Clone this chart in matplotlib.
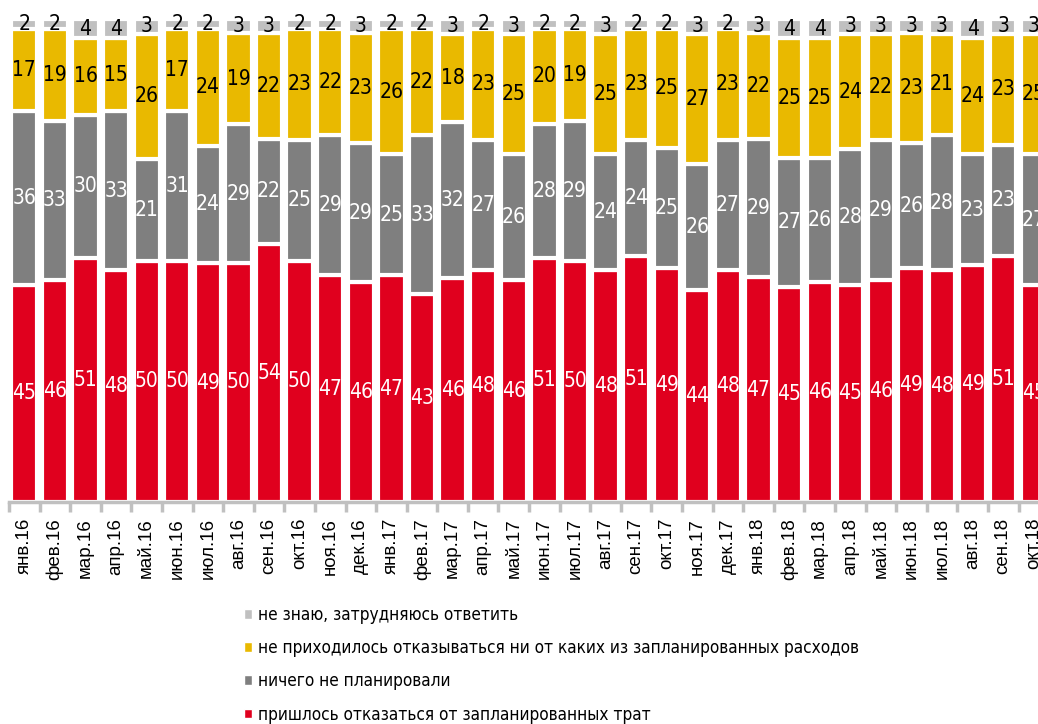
import numpy as np
import matplotlib
matplotlib.use("Agg")
import matplotlib.pyplot as plt
from matplotlib import font_manager
from matplotlib.patches import Patch
from matplotlib.ticker import FixedLocator

# --- Data ---
months = ["янв.16", "фев.16", "мар.16", "апр.16", "май.16", "июн.16", "июл.16",
          "авг.16", "сен.16", "окт.16", "ноя.16", "дек.16", "янв.17", "фев.17",
          "мар.17", "апр.17", "май.17", "июн.17", "июл.17", "авг.17", "сен.17",
          "окт.17", "ноя.17", "дек.17", "янв.18", "фев.18", "мар.18", "апр.18",
          "май.18", "июн.18", "июл.18", "авг.18", "сен.18", "окт.18"]

had_to_cancel = [45, 46, 51, 48, 50, 50, 49, 50, 54, 50, 47, 46, 47, 43, 46, 48, 46,
                 51, 50, 48, 51, 49, 44, 48, 47, 45, 46, 45, 46, 49, 48, 49, 51, 45]
planned_nothing = [36, 33, 30, 33, 21, 31, 24, 29, 22, 25, 29, 29, 25, 33, 32, 27, 26,
                   28, 29, 24, 24, 25, 26, 27, 29, 27, 26, 28, 29, 26, 28, 23, 23, 27]
no_cancel = [17, 19, 16, 15, 26, 17, 24, 19, 22, 23, 22, 23, 26, 22, 18, 23, 25,
             20, 19, 25, 23, 25, 27, 23, 22, 25, 25, 24, 22, 23, 21, 24, 23, 25]
dont_know = [2, 2, 4, 4, 3, 2, 2, 3, 3, 2, 2, 3, 2, 2, 3, 2, 3,
             2, 2, 3, 2, 2, 3, 2, 3, 4, 4, 3, 3, 3, 3, 4, 3, 3]

series = [
    ("пришлось отказаться от запланированных трат", had_to_cancel, "#E0001E", "white"),
    ("ничего не планировали", planned_nothing, "#7F7F7F", "white"),
    ("не приходилось отказываться ни от каких из запланированных расходов", no_cancel, "#E9B900", "black"),
    ("не знаю, затрудняюсь ответить", dont_know, "#C0C0C0", "black"),
]

# --- pick a narrow font for labels/legend (whatever is installed) ---
fonts = font_manager.fontManager.ttflist
names = {f.name for f in fonts}
if "Liberation Sans Narrow" in names:
    NARROW = dict(family="Liberation Sans Narrow")
elif any(f.name == "DejaVu Sans" and f.stretch == "condensed" for f in fonts):
    NARROW = dict(family="DejaVu Sans", stretch="condensed")
else:
    NARROW = dict(family="Roboto")
REGULAR = dict(family=["Liberation Sans", "DejaVu Sans"])

# 100% stacked chart
totals = np.sum([np.array(s[1]) for s in series], axis=0)
x = np.arange(len(months))

fig = plt.figure(figsize=(10.38, 7.24), dpi=100)
ax = fig.add_axes([0.0087, 0.3066, 1.002, 0.667])

bottom = np.zeros(len(months))
for name, vals, color, txt_color in series:
    share = np.array(vals) / totals * 100
    bars = ax.bar(x, share, width=0.86, bottom=bottom, color=color,
                  edgecolor="white", linewidth=3, label=name)
    ax.bar_label(bars, labels=[str(v) for v in vals], label_type="center",
                 color=txt_color, fontsize=15, **NARROW)
    bottom += share

# --- axes formatting ---
ax.set_xlim(-0.5, len(months) - 0.5)
ax.set_ylim(0, 100)
for side in ["top", "right", "left"]:
    ax.spines[side].set_visible(False)
ax.spines["bottom"].set_color("#C0C0C0")
ax.spines["bottom"].set_linewidth(2.5)
ax.yaxis.set_visible(False)

ax.set_xticks(x)
ax.set_xticklabels(months, rotation=90, fontsize=13.5, **REGULAR)
ax.tick_params(axis="x", which="major", length=0, pad=11.5)
ax.xaxis.set_minor_locator(FixedLocator(np.arange(-0.5, len(months), 1.0)))
ax.tick_params(axis="x", which="minor", length=7, width=2.5, color="#C0C0C0")

# --- legend (reverse order, top to bottom) ---
handles = [Patch(facecolor=c, edgecolor="white") for _, _, c, _ in series[::-1]]
labels = [n for n, _, _, _ in series[::-1]]
fig.legend(handles, labels, loc="upper left", bbox_to_anchor=(0.235, 0.163),
           frameon=False, prop=dict(size=12.3, **NARROW),
           handlelength=0.5, handleheight=0.5, handletextpad=0.3,
           labelspacing=0.89, borderpad=0, borderaxespad=0)

fig.savefig("out.png", dpi=100)
